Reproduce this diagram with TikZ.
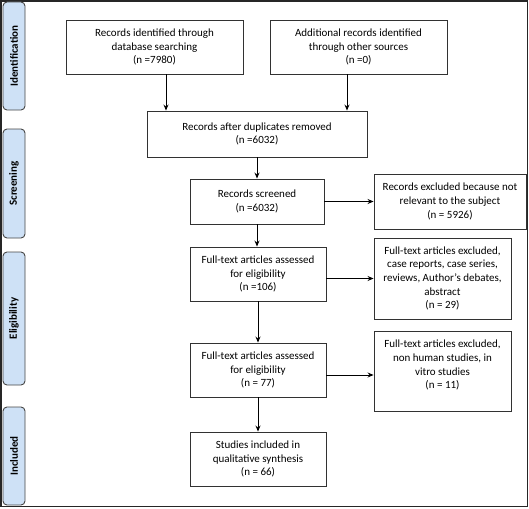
\documentclass[tikz,border=0pt]{standalone}
\usepackage{fontspec}
\setmainfont{Carlito}
\usetikzlibrary{arrows.meta}
\definecolor{phasefill}{RGB}{206,225,246}
\definecolor{phaseedge}{RGB}{70,70,70}
\definecolor{boxedge}{RGB}{50,50,50}
\tikzset{
  box/.style={draw=boxedge, line width=0.9pt, align=center, inner sep=0pt,
    font=\fontsize{11}{13.6}\selectfont},
  phase/.style={draw=phaseedge, fill=phasefill, line width=0.9pt, rounded corners=4pt,
    rotate=90, inner sep=0pt, minimum height=22pt, font=\fontsize{11}{13}\selectfont\bfseries},
  arr/.style={draw=black, line width=0.9pt, -{Stealth[length=6pt,width=5pt]}}
}
\begin{document}
\begin{tikzpicture}[x=1pt,y=-1pt]
\useasboundingbox (0,0) rectangle (529,508);
\draw[line width=1.6pt, draw=black!85] (1,1) rectangle (527.5,506.5);
% phases
\node[phase, minimum width=108pt] (pid) at (14,56) {Identification};
\node[phase, minimum width=109pt] (psc) at (14,183.5) {Screening};
\node[phase, minimum width=133pt] (pel) at (14,318.5) {Eligibility};
\node[phase, minimum width=98pt] (pin) at (14,456) {Included};
% boxes
\node[box, minimum width=177pt, minimum height=54pt] (b1) at (154.5,47) {Records identified through\\database searching\\(n =7980)};
\node[box, minimum width=177pt, minimum height=54pt] (b2) at (358.5,47) {Additional records identified\\through other sources\\(n =0)};
\node[box, minimum width=220pt, minimum height=46pt] (b3) at (257,134) {Records after duplicates removed\\(n =6032)};
\node[box, minimum width=134pt, minimum height=45pt] (b4) at (257,201.5) {Records screened\\(n =6032)};
\node[box, minimum width=152pt, minimum height=55pt] (b5) at (450,201.5) {Records excluded because not\\relevant to the subject\\(n = 5926)};
\node[box, minimum width=136pt, minimum height=54pt] (b6) at (258,274) {Full-text articles assessed\\for eligibility\\(n =106)};
\node[box, minimum width=137pt, minimum height=81pt] (b7) at (442.5,278.5) {Full-text articles excluded,\\case reports, case series,\\reviews, Author’s debates,\\abstract\\(n = 29)};
\node[box, minimum width=136pt, minimum height=54pt] (b8) at (258,370) {Full-text articles assessed\\for eligibility\\(n = 77)};
\node[box, minimum width=137pt, minimum height=80pt, text depth=13pt] (b9) at (442.5,371) {Full-text articles excluded,\\non human studies, in\\vitro studies\\(n = 11)};
\node[box, minimum width=136pt, minimum height=54pt] (b10) at (258,459) {Studies included in\\qualitative synthesis\\(n = 66)};
% arrows
\draw[arr] ([xshift=11.5pt]b1.south) -- ([xshift=11.5pt]b1.south |- b3.north);
\draw[arr] ([xshift=-11.5pt]b2.south) -- ([xshift=-11.5pt]b2.south |- b3.north);
\draw[arr] (b3.south) -- (b3.south |- b4.north);
\draw[arr] (b4.east) -- (b4.east -| b5.west);
\draw[arr] (b4.south) -- (b4.south |- b6.north);
\draw[arr] (b7.west -| b6.east) -- (b7.west);
\draw[arr] (b6.south) -- (b6.south |- b8.north);
\draw[arr] ([yshift=-5pt]b8.east) -- ([yshift=-5pt]b8.east -| b9.west);
\draw[arr] (b8.south) -- (b8.south |- b10.north);
\end{tikzpicture}
\end{document}
